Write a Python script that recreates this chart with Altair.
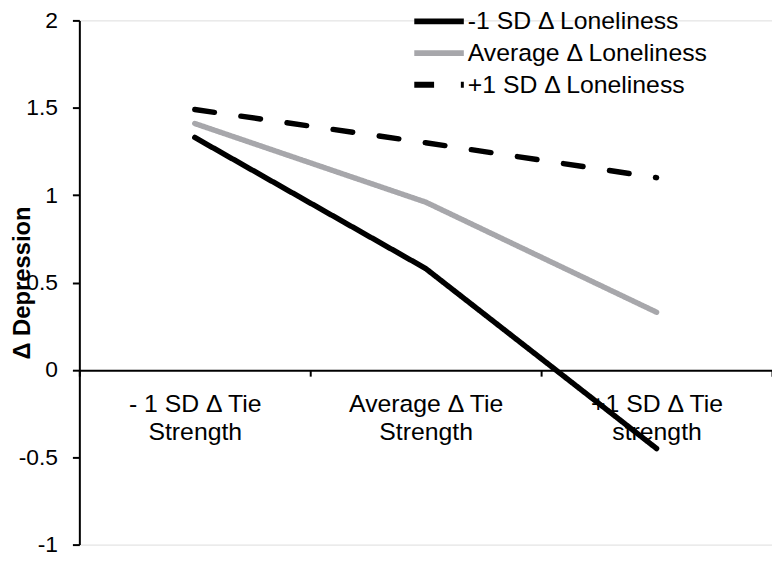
import altair as alt
import pandas as pd

categories = ["- 1 SD Δ Tie|Strength", "Average Δ Tie|Strength", "+1 SD Δ Tie|strength"]
series = ["\u00a0-1 SD Δ Loneliness", "Average Δ Loneliness", "\u00a0+1 SD Δ Loneliness"]
low_lonely = [1.33, 0.58, -0.45]
avg_lonely = [1.41, 0.96, 0.33]
high_lonely = [1.49, 1.30, 1.10]
y_ticks = [-1, -0.5, 0, 0.5, 1, 1.5, 2]

rows = []
for s, vals in zip(series, [low_lonely, avg_lonely, high_lonely]):
    for c, v in zip(categories, vals):
        rows.append({"tie": c, "series": s, "value": v})
df = pd.DataFrame(rows)

FONT = "Liberation Sans"
H = 529

legend_opts = dict(title=None, orient="none", legendX=335, legendY=-15,
                   symbolType="stroke", symbolSize=2500, symbolStrokeWidth=6,
                   labelFontSize=25, labelFont=FONT, labelColor="black",
                   labelLimit=500, labelOffset=1, padding=0, rowPadding=0,
                   clipHeight=32)

chart = alt.Chart(df).mark_line(strokeWidth=5.5, strokeCap="round").encode(
    x=alt.X("tie:N", sort=categories,
            scale=alt.Scale(type="band", paddingInner=0, paddingOuter=0),
            axis=alt.Axis(title=None, orient="bottom", offset=-round(H / 3), tickBand="extent",
                          labelExpr="split(datum.label, '|')", labelAngle=0,
                          labelFontSize=25, labelLineHeight=28, labelPadding=16,
                          labelColor="black", labelFont=FONT,
                          domainColor="black", domainWidth=2,
                          tickColor="black", tickWidth=2, tickSize=6)),
    y=alt.Y("value:Q",
            scale=alt.Scale(domain=[-1, 2], nice=False, zero=False),
            axis=alt.Axis(title="Δ Depression", values=y_ticks, grid=False,
                          labelExpr="datum.value + ''",
                          labelFontSize=23, labelFont=FONT, labelColor="black",
                          labelPadding=15,
                          domainColor="black", domainWidth=2,
                          tickColor="black", tickWidth=2, tickSize=7,
                          titleFont=FONT, titleFontSize=24, titleFontWeight="bold",
                          titleColor="black", titleX=-57, titleY=H / 2,
                          titleBaseline="middle", titleAlign="center")),
    color=alt.Color("series:N", sort=series,
                    scale=alt.Scale(domain=series, range=["black", "#a7a7ab", "black"]),
                    legend=alt.Legend(**legend_opts)),
    strokeDash=alt.StrokeDash("series:N", sort=series,
                              scale=alt.Scale(domain=series, range=[[1, 0], [1, 0], [20, 27]]),
                              legend=alt.Legend(**legend_opts)),
).properties(
    width=699, height=H,
    autosize=alt.AutoSizeParams(type="none"),
    padding={"left": 72, "top": 10, "right": 0, "bottom": 11},
).configure_view(stroke=None).configure(font=FONT)

chart.save("out.html", embed_options={"renderer": "svg", "actions": False})
